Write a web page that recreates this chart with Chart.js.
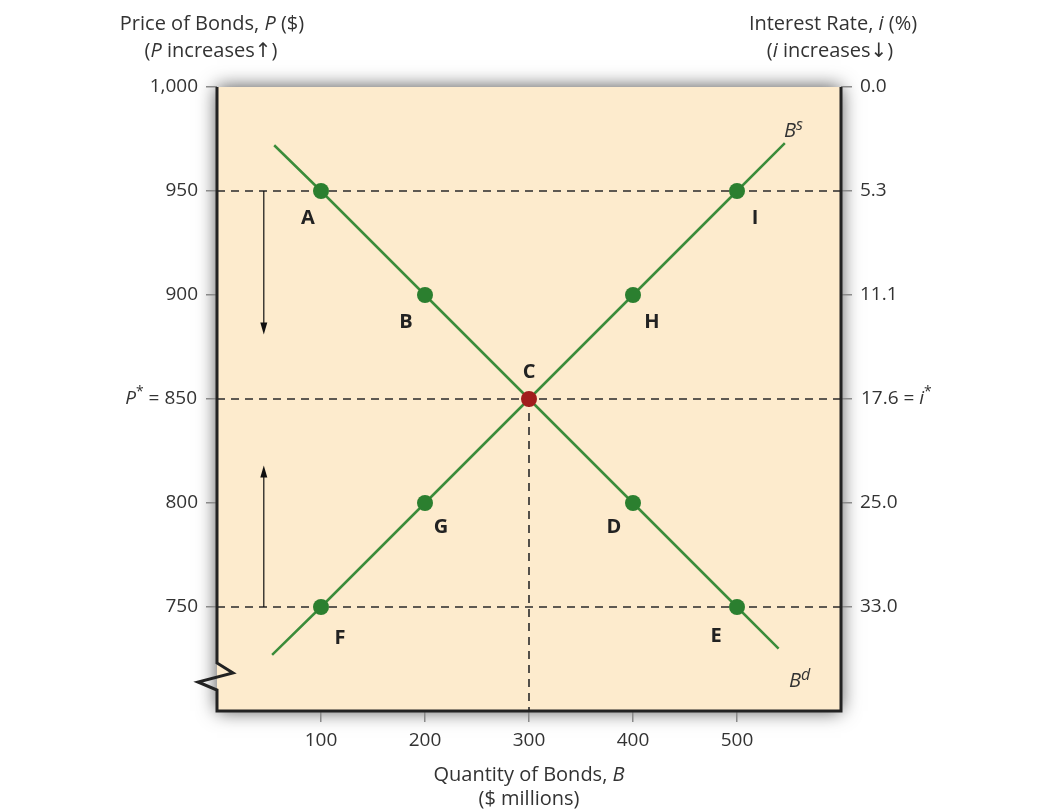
<!DOCTYPE html>
<html>
<head>
<meta charset="utf-8">
<script src="https://cdn.jsdelivr.net/npm/chart.js@4"></script>
<style>
  html, body { margin: 0; padding: 0; background: #fff; }
  canvas { display: block; }
</style>
</head>
<body>
<canvas id="bondChart" width="1052" height="810"></canvas>
<script>
// Data
const priceTicks = [750, 800, 850, 900, 950, 1000];
const priceLabels = ['750', '800', '', '900', '950', '1,000'];
const rateLabels = ['33.0', '25.0', '', '11.1', '5.3', '0.0'];
const quantityTicks = [100, 200, 300, 400, 500];

const demandLine = [[55, 972], [100, 950], [200, 900], [300, 850], [400, 800], [500, 750], [540, 730]];
const supplyLine = [[53, 727], [100, 750], [200, 800], [300, 850], [400, 900], [500, 950], [546, 973]];

const pointNames = ['A', 'B', 'D', 'E', 'F', 'G', 'H', 'I'];
const pointQty = [100, 200, 400, 500, 100, 200, 400, 500];
const pointPrice = [950, 900, 800, 750, 750, 800, 900, 950];
// label offsets in px (dx, dy) from each dot
const labelOffsets = [[-13, 27], [-19, 27], [-19, 24], [-21, 29], [19, 31], [16, 24], [19, 27], [18, 27]];
const eqPoint = { name: 'C', x: 300, y: 850 };

const dashPrices = [950, 850, 750];
const arrowDown = { x: 45, from: 950, to: 881 };
const arrowUp = { x: 45, from: 750, to: 818 };

const FONT = '"Open Sans", "Noto Sans", sans-serif';
const GREEN = '#2b7f2f';
const LINE_GREEN = '#3b8c3a';
const RED = '#a11d1d';
const TXT = '#333';

const toXY = arr => arr.map(p => ({ x: p[0], y: p[1] }));

// rich text helper: runs of {t, i (italic), sup, b, fam}
function runFont(r, size) {
  const s = r.sup ? Math.round(size * (r.sup === true ? 0.72 : r.sup)) : size;
  return (r.i ? 'italic ' : '') + (r.b ? 'bold ' : '') + s + 'px ' + (r.fam || FONT);
}
function drawRich(ctx, runs, x, y, align, size) {
  let w = 0;
  runs.forEach(r => { ctx.font = runFont(r, size); w += ctx.measureText(r.t).width; });
  let cx = align === 'center' ? x - w / 2 : align === 'right' ? x - w : x;
  ctx.textAlign = 'left';
  runs.forEach(r => {
    ctx.font = runFont(r, size);
    ctx.fillText(r.t, cx, r.sup ? y - size * 0.35 : y);
    cx += ctx.measureText(r.t).width;
  });
}

function arrow(ctx, x, y1, y2) {
  const dir = y2 > y1 ? 1 : -1;
  ctx.beginPath();
  ctx.moveTo(x, y1);
  ctx.lineTo(x, y2 - dir * 10);
  ctx.stroke();
  ctx.beginPath();
  ctx.moveTo(x, y2);
  ctx.lineTo(x - 3.5, y2 - dir * 12);
  ctx.lineTo(x + 3.5, y2 - dir * 12);
  ctx.closePath();
  ctx.fill();
}

const decor = {
  id: 'decor',
  beforeDraw(chart) {
    const { ctx, chartArea: a } = chart;
    ctx.save();
    ctx.fillStyle = '#fff';
    ctx.fillRect(0, 0, chart.width, chart.height);
    ctx.shadowColor = 'rgba(0,0,0,0.7)';
    ctx.shadowBlur = 18;
    ctx.fillStyle = '#fdebcd';
    ctx.fillRect(a.left, a.top, a.right - a.left, a.bottom - a.top);
    ctx.restore();
  },
  afterDatasetsDraw(chart) {
    const { ctx, chartArea: a, scales } = chart;
    const xs = scales.x, ys = scales.y;
    ctx.save();

    // frame: left (with break), bottom, right
    ctx.strokeStyle = '#222';
    ctx.lineWidth = 3;
    ctx.lineJoin = 'miter';
    ctx.beginPath();
    ctx.moveTo(a.left, a.top);
    ctx.lineTo(a.left, 663);
    ctx.lineTo(a.left + 16, 673);
    ctx.lineTo(a.left - 19, 682);
    ctx.lineTo(a.left, 690);
    ctx.lineTo(a.left, a.bottom);
    ctx.lineTo(a.right, a.bottom);
    ctx.lineTo(a.right, a.top);
    ctx.stroke();

    // arrows
    ctx.strokeStyle = '#111';
    ctx.fillStyle = '#111';
    ctx.lineWidth = 1.2;
    arrow(ctx, xs.getPixelForValue(arrowDown.x), ys.getPixelForValue(arrowDown.from), ys.getPixelForValue(arrowDown.to));
    arrow(ctx, xs.getPixelForValue(arrowUp.x), ys.getPixelForValue(arrowUp.from), ys.getPixelForValue(arrowUp.to));

    // point letters
    ctx.fillStyle = '#222';
    ctx.textBaseline = 'middle';
    ctx.textAlign = 'center';
    ctx.font = 'bold 20px ' + FONT;
    pointNames.forEach((n, i) => {
      ctx.fillText(n, xs.getPixelForValue(pointQty[i]) + labelOffsets[i][0], ys.getPixelForValue(pointPrice[i]) + labelOffsets[i][1]);
    });
    ctx.fillText(eqPoint.name, xs.getPixelForValue(eqPoint.x), ys.getPixelForValue(eqPoint.y) - 27);

    // curve labels
    ctx.textBaseline = 'alphabetic';
    ctx.fillStyle = TXT;
    drawRich(ctx, [{ t: 'B', i: true }, { t: 's', i: true, sup: 0.8 }], 784, 137, 'left', 20);
    drawRich(ctx, [{ t: 'B', i: true }, { t: 'd', i: true, sup: 0.8 }], 789, 687, 'left', 20);

    // special tick labels
    ctx.textBaseline = 'middle';
    drawRich(ctx, [{ t: 'P', i: true }, { t: '*', sup: true }, { t: ' = 850' }], 197, ys.getPixelForValue(850), 'right', 19);
    drawRich(ctx, [{ t: '17.6 = ' }, { t: 'i', i: true }, { t: '*', sup: true }], 861, ys.getPixelForValue(850), 'left', 19);

    // axis titles
    ctx.textBaseline = 'alphabetic';
    const arrowFam = '"DejaVu Sans", sans-serif';
    drawRich(ctx, [{ t: 'Price of Bonds, ' }, { t: 'P', i: true }, { t: ' ($)' }], 212, 30, 'center', 20);
    drawRich(ctx, [{ t: '(' }, { t: 'P', i: true }, { t: ' increases' }, { t: '\u2191', fam: arrowFam }, { t: ')' }], 211, 57, 'center', 20);
    drawRich(ctx, [{ t: 'Interest Rate, ' }, { t: 'i', i: true }, { t: ' (%)' }], 833, 30, 'center', 20);
    drawRich(ctx, [{ t: '(' }, { t: 'i', i: true }, { t: ' increases' }, { t: '\u2193', fam: arrowFam }, { t: ')' }], 830, 57, 'center', 20);
    drawRich(ctx, [{ t: 'Quantity of Bonds, ' }, { t: 'B', i: true }], 529, 781, 'center', 20);
    drawRich(ctx, [{ t: '($ millions)' }], 529, 805, 'center', 20);
    ctx.restore();
  }
};

const dashSets = dashPrices.map(p => ({
  data: [{ x: 0, y: p }, { x: 600, y: p }],
  showLine: true, borderColor: '#2a2a2a', borderWidth: 1.6, borderDash: [8, 6],
  pointRadius: 0, order: 5
}));
dashSets.push({
  data: [{ x: 300, y: 850 }, { x: 300, y: 700 }],
  showLine: true, borderColor: '#2a2a2a', borderWidth: 1.6, borderDash: [8, 6],
  pointRadius: 0, order: 5
});

const tickGrid = { drawOnChartArea: false, drawTicks: true, tickLength: 11, color: '#8a8a8a', lineWidth: 1.5 };
const tickFont = { family: FONT, size: 19 };

new Chart(document.getElementById('bondChart'), {
  type: 'scatter',
  data: {
    datasets: [
      {
        data: [{ x: eqPoint.x, y: eqPoint.y }],
        pointRadius: 8, pointBackgroundColor: RED, pointBorderWidth: 0, order: 0
      },
      {
        data: pointQty.map((q, i) => ({ x: q, y: pointPrice[i] })),
        pointRadius: 8, pointBackgroundColor: GREEN, pointBorderWidth: 0, order: 1
      },
      {
        data: toXY(demandLine), showLine: true, borderColor: LINE_GREEN, borderWidth: 2.5,
        pointRadius: 0, order: 2
      },
      {
        data: toXY(supplyLine), showLine: true, borderColor: LINE_GREEN, borderWidth: 2.5,
        pointRadius: 0, order: 2
      },
      ...dashSets
    ]
  },
  options: {
    responsive: false,
    animation: false,
    devicePixelRatio: 1,
    layout: { padding: { top: 87, left: 0, right: 0, bottom: 0 } },
    plugins: { legend: { display: false }, tooltip: { enabled: false } },
    scales: {
      x: {
        type: 'linear', min: 0, max: 600, position: 'bottom',
        afterBuildTicks: s => { s.ticks = quantityTicks.map(v => ({ value: v })); },
        afterFit: s => { s.height = 99; },
        grid: tickGrid, border: { display: false },
        ticks: { font: tickFont, color: TXT, padding: 7, maxRotation: 0 }
      },
      y: {
        type: 'linear', min: 700, max: 1000, position: 'left',
        afterBuildTicks: s => { s.ticks = priceTicks.map(v => ({ value: v })); },
        afterFit: s => { s.width = 217; },
        grid: tickGrid, border: { display: false },
        ticks: {
          font: tickFont, color: TXT, padding: 8,
          callback: v => priceLabels[priceTicks.indexOf(v)]
        }
      },
      y2: {
        type: 'linear', min: 700, max: 1000, position: 'right',
        afterBuildTicks: s => { s.ticks = priceTicks.map(v => ({ value: v })); },
        afterFit: s => { s.width = 211; },
        grid: tickGrid, border: { display: false },
        ticks: {
          font: tickFont, color: TXT, padding: 8,
          callback: v => rateLabels[priceTicks.indexOf(v)]
        }
      }
    }
  },
  plugins: [decor]
});
</script>
</body>
</html>
